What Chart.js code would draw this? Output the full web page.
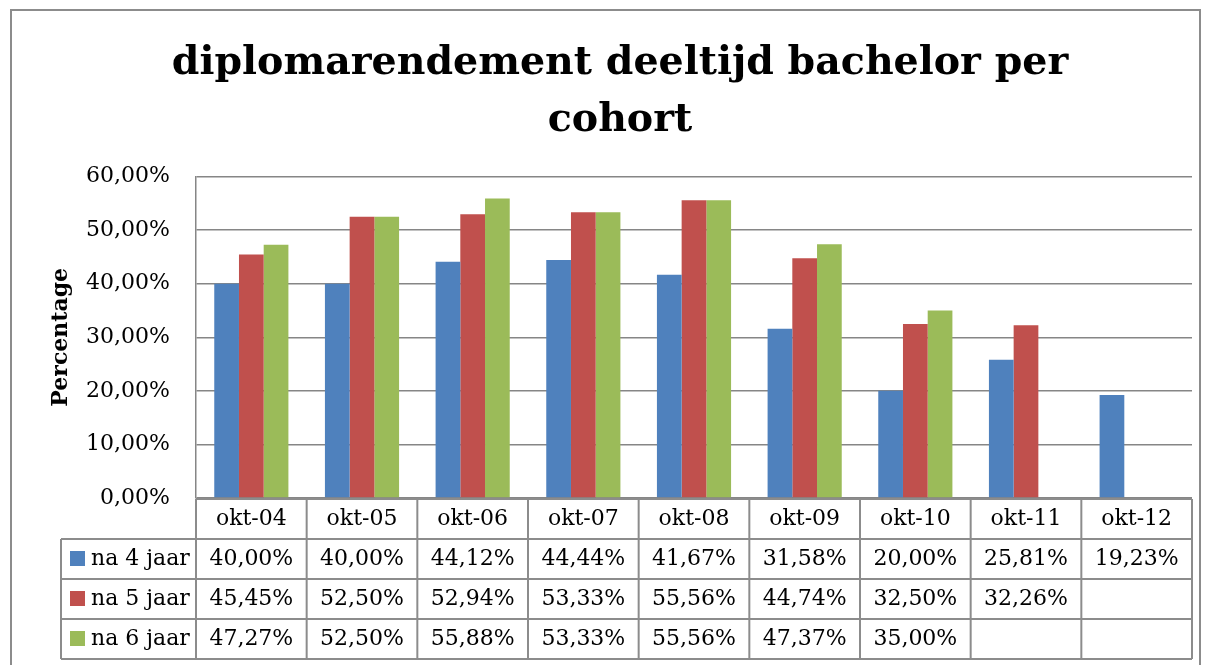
<!DOCTYPE html>
<html>
<head>
<meta charset="utf-8">
<script src="https://cdn.jsdelivr.net/npm/chart.js@4.4.1/dist/chart.umd.min.js"></script>
<style>
  html, body { margin: 0; padding: 0; background: #fff; }
</style>
</head>
<body>
<canvas id="myChart" width="1209" height="665"></canvas>
<script>
// cohorts (x categories)
const categories = ['okt-04', 'okt-05', 'okt-06', 'okt-07', 'okt-08', 'okt-09', 'okt-10', 'okt-11', 'okt-12'];
const seriesNames = ['na 4 jaar', 'na 5 jaar', 'na 6 jaar'];
// percentages, null = no value yet
const na4jaar = [40.00, 40.00, 44.12, 44.44, 41.67, 31.58, 20.00, 25.81, 19.23];
const na5jaar = [45.45, 52.50, 52.94, 53.33, 55.56, 44.74, 32.50, 32.26, null];
const na6jaar = [47.27, 52.50, 55.88, 53.33, 55.56, 47.37, 35.00, null, null];
const seriesColors = ['#4F81BD', '#C0504D', '#9BBB59'];

const FONT = 'DejaVu Serif';
const fmt = v => v.toFixed(2).replace('.', ',') + '%';

// outer chart border, like the excel chart frame
const framePlugin = {
  id: 'frame',
  beforeDraw(chart) {
    const ctx = chart.ctx;
    ctx.save();
    ctx.fillStyle = '#fff';
    ctx.fillRect(0, 0, chart.width, chart.height);
    ctx.strokeStyle = '#8c8c8c';
    ctx.lineWidth = 2;
    ctx.strokeRect(11, 10, 1189, 700);
    ctx.restore();
  }
};

// data table under the plot
const tablePlugin = {
  id: 'dataTable',
  afterDraw(chart) {
    const ctx = chart.ctx;
    const area = chart.chartArea;
    const xs = chart.scales.x;
    const colW = (area.right - area.left) / categories.length;
    const top = area.bottom + 1;
    const rowH = 40;
    const tableLeft = 61;
    const rows = [na4jaar, na5jaar, na6jaar];

    ctx.save();
    ctx.strokeStyle = '#8c8c8c';
    ctx.lineWidth = 2;
    ctx.beginPath();
    // header row
    ctx.moveTo(area.left, top); ctx.lineTo(area.right, top);
    for (let r = 1; r <= 4; r++) {
      ctx.moveTo(tableLeft, top + r * rowH); ctx.lineTo(area.right, top + r * rowH);
    }
    for (let i = 0; i <= categories.length; i++) {
      const x = area.left + i * colW;
      ctx.moveTo(x, top); ctx.lineTo(x, top + 4 * rowH);
    }
    ctx.moveTo(tableLeft, top + rowH); ctx.lineTo(tableLeft, top + 4 * rowH);
    ctx.stroke();

    ctx.fillStyle = '#000';
    ctx.font = '22px "' + FONT + '"';
    ctx.textBaseline = 'middle';
    ctx.textAlign = 'center';
    categories.forEach((c, i) => {
      ctx.fillText(c, xs.getPixelForValue(i), top + rowH / 2);
    });
    rows.forEach((vals, r) => {
      const cy = top + rowH * (r + 1) + rowH / 2;
      vals.forEach((v, i) => {
        if (v !== null) ctx.fillText(fmt(v), xs.getPixelForValue(i), cy);
      });
      // legend key + series name
      ctx.fillStyle = seriesColors[r];
      ctx.fillRect(70, cy - 8, 15, 15);
      ctx.fillStyle = '#000';
      ctx.textAlign = 'left';
      ctx.fillText(seriesNames[r], 91, cy);
      ctx.textAlign = 'center';
    });
    ctx.restore();
  }
};

const data = {
  labels: categories,
  datasets: [
    { label: seriesNames[0], data: na4jaar, backgroundColor: seriesColors[0] },
    { label: seriesNames[1], data: na5jaar, backgroundColor: seriesColors[1] },
    { label: seriesNames[2], data: na6jaar, backgroundColor: seriesColors[2] }
  ]
};

const config = {
  type: 'bar',
  data,
  options: {
    responsive: false,
    animation: false,
    layout: { padding: { top: 0, left: 48, right: 17, bottom: 167 } },
    datasets: { bar: { categoryPercentage: 0.67, barPercentage: 1.0 } },
    plugins: {
      legend: { display: false },
      tooltip: { enabled: false },
      title: {
        display: true,
        text: ['diplomarendement deeltijd bachelor per', 'cohort'],
        color: '#000',
        font: { family: FONT, size: 39.5, weight: 'bold', lineHeight: 1.45 },
        padding: { top: 35, bottom: 27 }
      }
    },
    scales: {
      x: {
        display: false
      },
      y: {
        min: 0,
        max: 60,
        ticks: {
          stepSize: 10,
          color: '#000',
          padding: 26,
          font: { family: FONT, size: 22 },
          callback: v => fmt(v)
        },
        grid: { color: '#868686', lineWidth: 1.5, drawTicks: false },
        border: { display: true, color: '#868686', width: 1.5 },
        title: {
          display: true,
          text: 'Percentage',
          color: '#000',
          font: { family: FONT, size: 22, weight: 'bold' },
          padding: 0
        },
        afterFit(scale) { scale.width = 148; }
      }
    }
  },
  plugins: [framePlugin, tablePlugin]
};

const myChart = new Chart(document.getElementById('myChart'), config);
</script>
</body>
</html>
